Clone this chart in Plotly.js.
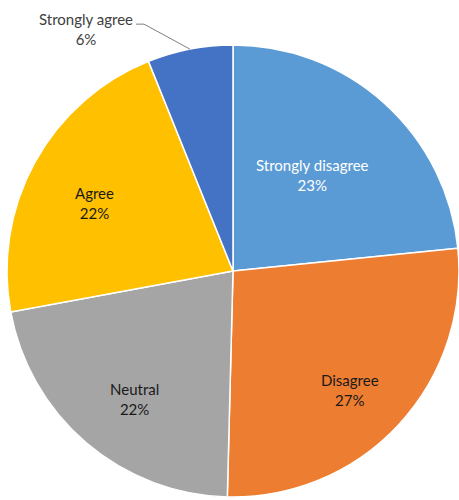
<!DOCTYPE html>
<html>
<head>
<meta charset="utf-8">
<script src="https://cdn.plot.ly/plotly-3.0.1.min.js"></script>
<style>html,body{margin:0;padding:0;background:#fff;}#chart{width:459px;height:500px;}</style>
</head>
<body>
<div id="chart"></div>
<script>
// Data
const labels = ['Strongly disagree', 'Disagree', 'Neutral', 'Agree', 'Strongly agree'];
const values = [23.4, 27.0, 21.7, 21.8, 6.1];
const colors = ['#5B9BD5', '#ED7D31', '#A5A5A5', '#FFC000', '#4472C4'];

// Styling / layout params
const W = 459, H = 500;
const cx = 233, cy = 271, R = 226;
const labelFrac = [0.56, 0.73, 0.73, 0.69, null];
const labelNudge = [[-5, -2], [-4, 7], [9, 3], [-2, 7], [1, 0]];
const labelColor = ['#ffffff', '#1a1a1a', '#1a1a1a', '#1a1a1a', '#404040'];
const font = 'Lato, "Open Sans", sans-serif';
const fs = 15;

const total = values.reduce((a, b) => a + b, 0);
const pct = values.map(v => Math.round(v / total * 100) + '%');

const annotations = [];
const shapes = [];
let cum = 0;
values.forEach((v, i) => {
  const mid = (cum + v / 2) / total * 2 * Math.PI;
  cum += v;
  const [nx, ny] = labelNudge[i];
  if (labelFrac[i] !== null) {
    const px = cx + R * labelFrac[i] * Math.sin(mid) + nx;
    const py = cy - R * labelFrac[i] * Math.cos(mid) + ny;
    annotations.push({
      x: px / W, y: 1 - py / H, xref: 'paper', yref: 'paper',
      text: labels[i] + '<br>' + pct[i], showarrow: false,
      xanchor: 'center', yanchor: 'middle', align: 'center',
      font: {family: font, size: fs, color: labelColor[i]}
    });
  } else {
    // outside label with leader line
    const tx = cx + R * Math.sin(mid), ty = cy - R * Math.cos(mid);
    const ex = tx - 46, ey = ty - 25;
    const hx = ex - 8;
    const P = (x, y) => (x / W) + ',' + (1 - y / H);
    shapes.push({
      type: 'path', xref: 'paper', yref: 'paper',
      path: 'M' + P(tx, ty) + ' L' + P(ex, ey) + ' L' + P(hx, ey),
      line: {color: '#7f7f7f', width: 1}
    });
    annotations.push({
      x: (hx - 2 + nx) / W, y: 1 - (ey + 5 + ny) / H, xref: 'paper', yref: 'paper',
      text: labels[i] + '<br>' + pct[i], showarrow: false,
      xanchor: 'right', yanchor: 'middle', align: 'center',
      font: {family: font, size: fs, color: labelColor[i]}
    });
  }
});

const trace = {
  type: 'pie',
  labels: labels,
  values: values,
  sort: false,
  direction: 'clockwise',
  rotation: 0,
  textinfo: 'none',
  hoverinfo: 'none',
  marker: {colors: colors, line: {color: '#ffffff', width: 1.5}},
  domain: {x: [(cx - R) / W, (cx + R) / W], y: [1 - (cy + R) / H, 1 - (cy - R) / H]}
};

const layout = {
  width: W, height: H,
  margin: {l: 0, r: 0, t: 0, b: 0},
  paper_bgcolor: '#ffffff',
  showlegend: false,
  annotations: annotations,
  shapes: shapes
};

Plotly.newPlot('chart', [trace], layout, {displayModeBar: false, staticPlot: true});
</script>
</body>
</html>
